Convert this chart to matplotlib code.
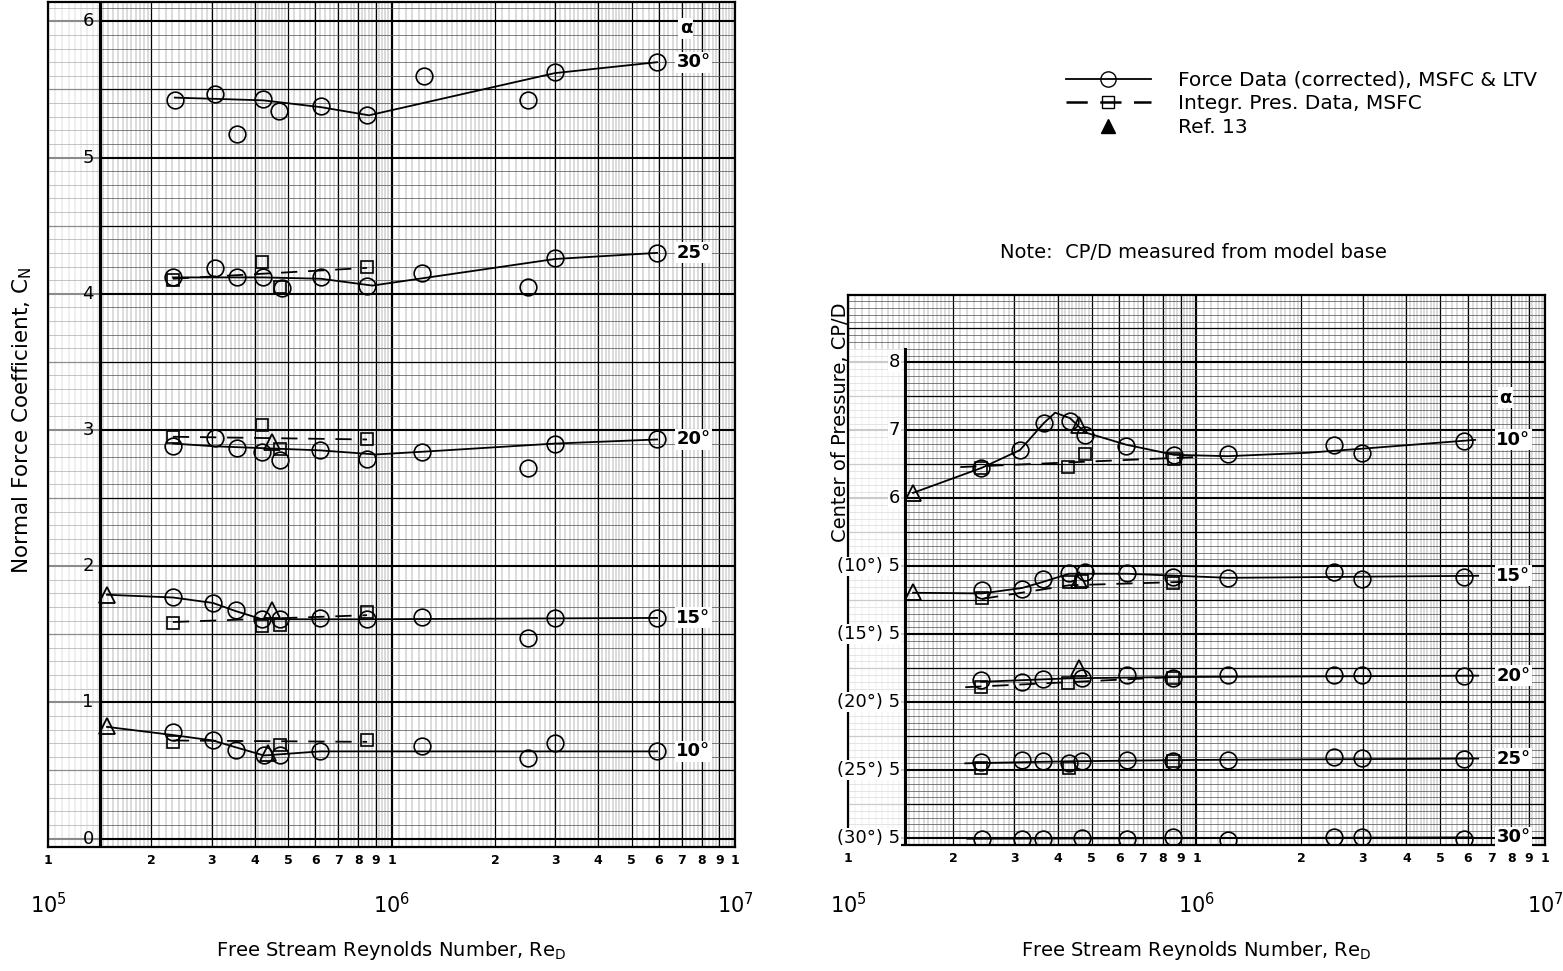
import numpy as np
import matplotlib
matplotlib.use("Agg")
import matplotlib.pyplot as plt
from matplotlib.lines import Line2D
from matplotlib.ticker import NullLocator
import matplotlib.transforms as mtrans

plt.rcParams['font.family'] = ['DejaVu Sans']

# ------------------------------------------------------------------ data
# Left panel: normal force coefficient C_N vs Re_D, per angle of attack
cn30_re = [2.34e5, 3.06e5, 3.55e5, 4.23e5, 4.70e5, 6.23e5, 8.49e5, 1.24e6, 2.50e6, 2.99e6, 5.93e6]
cn30 = [5.42, 5.47, 5.17, 5.43, 5.34, 5.38, 5.31, 5.60, 5.42, 5.63, 5.70]
cn30_fair_re = [2.34e5, 4.23e5, 6.23e5, 8.6e5, 2.99e6, 5.93e6]
cn30_fair = [5.44, 5.42, 5.37, 5.31, 5.62, 5.70]

cn25_re = [2.31e5, 3.06e5, 3.55e5, 4.23e5, 4.80e5, 6.23e5, 8.49e5, 1.23e6, 2.50e6, 2.99e6, 5.93e6]
cn25 = [4.12, 4.19, 4.12, 4.12, 4.04, 4.12, 4.06, 4.15, 4.05, 4.26, 4.30]
cn25_fair_re = [2.31e5, 4.23e5, 6.23e5, 8.8e5, 2.99e6, 5.93e6]
cn25_fair = [4.12, 4.12, 4.11, 4.06, 4.255, 4.30]
cn25_sq_re = [2.31e5, 4.20e5, 4.75e5, 8.49e5]
cn25_sq = [4.10, 4.23, 4.05, 4.20]
cn25_dash_re = [2.31e5, 8.49e5]
cn25_dash = [4.11, 4.19]

cn20_re = [2.31e5, 3.06e5, 3.55e5, 4.20e5, 4.75e5, 6.20e5, 8.49e5, 1.23e6, 2.50e6, 2.99e6, 5.93e6]
cn20 = [2.88, 2.94, 2.87, 2.84, 2.78, 2.85, 2.79, 2.84, 2.72, 2.90, 2.93]
cn20_fair_re = [2.31e5, 3.06e5, 6.20e5, 9.0e5, 1.23e6, 2.99e6, 5.93e6]
cn20_fair = [2.90, 2.88, 2.85, 2.82, 2.84, 2.90, 2.93]
cn20_sq_re = [2.31e5, 4.20e5, 4.75e5, 8.49e5]
cn20_sq = [2.95, 3.04, 2.86, 2.93]
cn20_dash_re = [2.31e5, 8.49e5]
cn20_dash = [2.95, 2.93]
cn20_tri_re = [4.49e5]
cn20_tri = [2.91]

cn15_re = [2.31e5, 3.02e5, 3.52e5, 4.20e5, 4.75e5, 6.20e5, 8.49e5, 1.23e6, 2.50e6, 2.99e6, 5.93e6]
cn15 = [1.77, 1.73, 1.68, 1.61, 1.61, 1.62, 1.61, 1.63, 1.47, 1.62, 1.62]
cn15_fair_re = [1.485e5, 2.31e5, 3.02e5, 3.52e5, 4.20e5, 8.49e5, 5.93e6]
cn15_fair = [1.79, 1.77, 1.73, 1.67, 1.61, 1.61, 1.62]
cn15_sq_re = [2.31e5, 4.20e5, 4.75e5, 8.49e5]
cn15_sq = [1.58, 1.56, 1.57, 1.66]
cn15_dash_re = [2.31e5, 8.49e5]
cn15_dash = [1.59, 1.64]
cn15_tri_re = [1.485e5, 4.49e5]
cn15_tri = [1.79, 1.68]

cn10_re = [2.31e5, 3.02e5, 3.52e5, 4.25e5, 4.75e5, 6.20e5, 1.23e6, 2.50e6, 2.99e6, 5.93e6]
cn10 = [0.78, 0.72, 0.65, 0.61, 0.61, 0.64, 0.68, 0.59, 0.70, 0.64]
cn10_fair_re = [1.485e5, 2.31e5, 3.02e5, 3.52e5, 4.25e5, 6.20e5, 5.93e6]
cn10_fair = [0.82, 0.76, 0.72, 0.67, 0.61, 0.64, 0.64]
cn10_sq_re = [2.31e5, 4.75e5, 8.49e5]
cn10_sq = [0.71, 0.69, 0.72]
cn10_dash_re = [2.31e5, 8.49e5]
cn10_dash = [0.72, 0.71]
cn10_tri_re = [1.485e5, 4.37e5]
cn10_tri = [0.83, 0.63]

# Right panel: centre of pressure CP/D vs Re_D, per angle of attack
cp10_re = [2.407e5, 3.115e5, 3.651e5, 4.335e5, 4.787e5, 6.277e5, 8.617e5, 1.231e6, 2.481e6, 2.985e6, 5.856e6]
cp10 = [6.45, 6.71, 7.11, 7.14, 6.93, 6.77, 6.64, 6.65, 6.79, 6.67, 6.84]
cp10_fair_re = [1.537e5, 2.424e5, 3.115e5, 3.651e5, 3.93e5, 4.335e5, 4.787e5, 6.277e5, 8.617e5, 1.231e6, 2.076e6, 2.985e6, 6.3e6]
cp10_fair = [6.08, 6.45, 6.71, 7.11, 7.26, 7.18, 6.97, 6.79, 6.64, 6.62, 6.67, 6.73, 6.86]
cp10_sq_re = [2.407e5, 4.279e5, 4.787e5, 8.617e5]
cp10_sq = [6.45, 6.46, 6.65, 6.58]
cp10_dash_re = [2.10e5, 1.02e6]
cp10_dash = [6.46, 6.61]
cp10_tri_re = [1.537e5, 4.601e5]
cp10_tri = [6.08, 7.08]

cp15_re = [2.424e5, 3.157e5, 3.627e5, 4.307e5, 4.787e5, 6.319e5, 8.562e5, 1.231e6, 2.481e6, 2.985e6, 5.856e6]
cp15 = [5.65, 5.67, 5.81, 5.90, 5.92, 5.90, 5.84, 5.83, 5.92, 5.81, 5.84]
cp15_fair_re = [1.537e5, 2.424e5, 3.157e5, 3.627e5, 4.307e5, 6.319e5, 1.231e6, 6.43e6]
cp15_fair = [5.61, 5.60, 5.68, 5.77, 5.89, 5.89, 5.83, 5.86]
cp15_sq_re = [2.424e5, 4.307e5, 4.69e5, 8.562e5]
cp15_sq = [5.53, 5.77, 5.78, 5.75]
cp15_dash_re = [2.424e5, 4.307e5, 9.14e5]
cp15_dash = [5.52, 5.72, 5.77]
cp15_tri_re = [1.537e5, 4.601e5]
cp15_tri = [5.62, 5.80]

cp20_re = [2.407e5, 3.157e5, 3.627e5, 4.70e5, 6.319e5, 8.562e5, 1.231e6, 2.481e6, 2.985e6, 5.856e6]
cp20 = [5.33, 5.30, 5.34, 5.36, 5.40, 5.36, 5.40, 5.40, 5.40, 5.39]
cp20_fair_re = [2.407e5, 4.279e5, 8.562e5, 6.43e6]
cp20_fair = [5.30, 5.35, 5.37, 5.39]
cp20_sq_re = [2.407e5, 4.279e5, 8.562e5]
cp20_sq = [5.22, 5.28, 5.36]
cp20_dash_re = [2.17e5, 8.6e5]
cp20_dash = [5.22, 5.37]
cp20_tri_re = [4.601e5]
cp20_tri = [5.50]

cp25_re = [2.407e5, 3.157e5, 3.627e5, 4.307e5, 4.70e5, 6.319e5, 8.562e5, 1.231e6, 2.481e6, 2.985e6, 5.856e6]
cp25 = [5.12, 5.15, 5.13, 5.11, 5.13, 5.15, 5.13, 5.15, 5.19, 5.18, 5.16]
cp25_fair_re = [2.17e5, 4.30e5, 1.0e6, 6.43e6]
cp25_fair = [5.10, 5.13, 5.15, 5.17]
cp25_sq_re = [2.407e5, 4.307e5, 8.562e5]
cp25_sq = [5.03, 5.03, 5.13]

cp30_re = [2.424e5, 3.157e5, 3.627e5, 4.70e5, 6.319e5, 8.562e5, 1.231e6, 2.481e6, 2.985e6, 5.856e6]
cp30 = [4.99, 4.99, 4.99, 5.00, 4.99, 5.02, 4.97, 5.02, 5.02, 4.99]
cp30_fair_re = [2.2e5, 6.2e6]
cp30_fair = [4.99, 5.01]

# stacked CP/D scale: value 5 of each alpha sits at this plotting level
cp_base = {'10°': 1, '15°': 2, '20°': 3, '25°': 4, '30°': 5}

x_tick_digits = ['1', '2', '3', '4', '5', '6', '7', '8', '9'] * 2 + ['1']
cn_tick_labels = ['0', '1', '2', '3', '4', '5', '6']
cp_tick_labels = ['(30°) 5', '(25°) 5', '(20°) 5', '(15°) 5', '(10°) 5', '6', '7', '8']

# ------------------------------------------------------------------ figure
W, H = 1563, 971
fig = plt.figure(figsize=(W / 100, H / 100), dpi=100)
fig.patch.set_facecolor('white')

ax1 = fig.add_axes([48 / W, 1 - 847 / H, 687 / W, 845 / H])
ax2 = fig.add_axes([848 / W, 1 - 845 / H, 697 / W, 550 / H])
ax1.set_xscale('log'); ax2.set_xscale('log')
ax1.set_xlim(1e5, 1e7); ax2.set_xlim(1e5, 1e7)
ax1.set_ylim(-0.062, 6.142)
ax2.set_ylim(-0.102, 7.992)


def paper(ax, y0, y1):
    xt = ax.get_xaxis_transform()
    yt = ax.get_yaxis_transform()
    minor = []
    for d in (1e5, 1e6):
        minor += [d * (1 + 0.05 * i) for i in range(1, 20)]
        minor += [d * (2 + 0.1 * i) for i in range(1, 30)]
        minor += [d * (5 + 0.2 * i) for i in range(1, 25)]
    ax.vlines(minor, 0, 1, transform=xt, colors='0.45', lw=0.35, zorder=0.5)
    mids = [d * k for d in (1e5, 1e6) for k in range(2, 10)]
    ax.vlines(mids, 0, 1, transform=xt, colors='k', lw=0.9, zorder=0.6)
    ax.vlines([1e5, 1e6, 1e7], 0, 1, transform=xt, colors='k', lw=1.6, zorder=0.6)
    for i in range(int(np.ceil(y0 * 10)), int(np.floor(y1 * 10)) + 1):
        h = i / 10
        if i % 10 == 0:
            lw, c = 1.5, 'k'
        elif i % 5 == 0:
            lw, c = 0.9, 'k'
        else:
            lw, c = 0.5, '0.3'
        ax.hlines(h, 0, 1, transform=yt, colors=c, lw=lw, zorder=0.6)


paper(ax1, -0.062, 6.142)
paper(ax2, -0.102, 7.992)

# lighter margin strips left of the heavy ordinate lines
ax1.axvspan(1e5, 1.42e5, color='white', alpha=0.55, zorder=0.8, lw=0)
ax2.fill_between([1e5, 1.457e5], -0.2, 7.2, color='white', alpha=0.8, zorder=0.8, lw=0)
ax1.axvline(1.42e5, color='k', lw=2.2, zorder=1)
ax2.axvline(1.457e5, ymin=0, ymax=(7.2 + 0.102) / 8.094, color='k', lw=2.2, zorder=1)

for ax in (ax1, ax2):
    ax.set_xticks([k * 1e5 for k in range(1, 10)] + [k * 1e6 for k in range(1, 10)] + [1e7])
    ax.set_xticklabels(x_tick_digits, fontweight='bold')
    ax.xaxis.set_minor_locator(NullLocator())
    ax.set_yticks([])
    ax.tick_params(axis='x', length=0, pad=5, labelsize=9)
    for s in ax.spines.values():
        s.set_linewidth(1.6)

circ = dict(marker='o', ms=12, mfc='none', mec='k', mew=1.2, ls='none', zorder=4)
sqr = dict(marker='s', ms=8, mfc='none', mec='k', mew=1.2, ls='none', zorder=4)
tri = dict(marker='^', ms=12, mfc='none', mec='k', mew=1.3, ls='none', zorder=4)
solid = dict(color='k', lw=1.3, zorder=3)
dashed = dict(color='k', lw=1.3, ls=(0, (9, 6)), zorder=3)

# left panel series
left_sets = [
    (cn30_re, cn30, cn30_fair_re, cn30_fair, None, None, None, None, None, None),
    (cn25_re, cn25, cn25_fair_re, cn25_fair, cn25_sq_re, cn25_sq, cn25_dash_re, cn25_dash, None, None),
    (cn20_re, cn20, cn20_fair_re, cn20_fair, cn20_sq_re, cn20_sq, cn20_dash_re, cn20_dash, cn20_tri_re, cn20_tri),
    (cn15_re, cn15, cn15_fair_re, cn15_fair, cn15_sq_re, cn15_sq, cn15_dash_re, cn15_dash, cn15_tri_re, cn15_tri),
    (cn10_re, cn10, cn10_fair_re, cn10_fair, cn10_sq_re, cn10_sq, cn10_dash_re, cn10_dash, cn10_tri_re, cn10_tri),
]
left_names = ['30°', '25°', '20°', '15°', '10°']


def draw(ax, s, shift=0.0):
    cx, cy, fx, fy, sx, sy, dx, dy, tx, ty = s
    f = lambda v: np.asarray(v) - shift
    ax.plot(fx, f(fy), **solid)
    ax.plot(cx, f(cy), **circ)
    if sx is not None:
        ax.plot(sx, f(sy), **sqr)
    if dx is not None:
        ax.plot(dx, f(dy), **dashed)
    if tx is not None:
        ax.plot(tx, f(ty), **tri)


lab_box = dict(facecolor='white', edgecolor='none', pad=1.0)
for s, name in zip(left_sets, left_names):
    draw(ax1, s)
    ax1.text(6.75e6, s[3][-1], name, fontsize=13, fontweight='bold', va='center', ha='left',
             zorder=5, bbox=lab_box)
ax1.text(6.9e6, 5.95, 'α', fontsize=13, fontweight='bold', va='center', ha='left', zorder=5,
         bbox=lab_box)

right_sets = [
    (cp10_re, cp10, cp10_fair_re, cp10_fair, cp10_sq_re, cp10_sq, cp10_dash_re, cp10_dash, cp10_tri_re, cp10_tri),
    (cp15_re, cp15, cp15_fair_re, cp15_fair, cp15_sq_re, cp15_sq, cp15_dash_re, cp15_dash, cp15_tri_re, cp15_tri),
    (cp20_re, cp20, cp20_fair_re, cp20_fair, cp20_sq_re, cp20_sq, cp20_dash_re, cp20_dash, cp20_tri_re, cp20_tri),
    (cp25_re, cp25, cp25_fair_re, cp25_fair, cp25_sq_re, cp25_sq, None, None, None, None),
    (cp30_re, cp30, cp30_fair_re, cp30_fair, None, None, None, None, None, None),
]
right_names = ['10°', '15°', '20°', '25°', '30°']
for s, name in zip(right_sets, right_names):
    draw(ax2, s, shift=cp_base[name])
    ax2.text(7.25e6, s[3][-1] - cp_base[name], name, fontsize=13, fontweight='bold', va='center',
             ha='left', zorder=5, bbox=lab_box)
ax2.text(7.4e6, 6.48, 'α', fontsize=13, fontweight='bold', va='center',
         ha='left', zorder=5, bbox=lab_box)

# ordinate labels drawn inside the paper margin
for i, t in enumerate(cn_tick_labels):
    ax1.text(1.36e5, i, t, fontsize=13, ha='right', va='center', zorder=5)
for i, t in enumerate(cp_tick_labels):
    ax2.text(1.41e5, i, t, fontsize=13, ha='right', va='center', zorder=5,
             bbox=dict(facecolor='white', edgecolor='none', pad=0.5))

# decade labels and axis titles
for ax in (ax1, ax2):
    tr = mtrans.blended_transform_factory(ax.transData, fig.transFigure)
    for d, t in zip([1e5, 1e6, 1e7], [r'$10^5$', r'$10^6$', r'$10^7$']):
        ax.text(d, 1 - 905 / H, t, transform=tr, fontsize=15, ha='center', va='center')
fig.text((48 + 735) / 2 / W, 1 - 950 / H, 'Free Stream Reynolds Number, Re$_\\mathrm{D}$',
         fontsize=14, ha='center', va='center')
fig.text((848 + 1545) / 2 / W, 1 - 950 / H, 'Free Stream Reynolds Number, Re$_\\mathrm{D}$',
         fontsize=14, ha='center', va='center')
fig.text(22 / W, 1 - 420 / H, 'Normal Force Coefficient, C$_\\mathrm{N}$', rotation=90,
         fontsize=15.5, ha='center', va='center')
fig.text(840 / W, 1 - 422 / H, 'Center of Pressure, CP/D', rotation=90,
         fontsize=14, ha='center', va='center')

# legend and note
handles = [
    Line2D([], [], color='k', lw=1.3, marker='o', ms=11, mfc='none', mec='k'),
    Line2D([], [], color='k', lw=1.8, ls=(0, (8.5, 5)), marker='s', ms=8, mfc='none', mec='k'),
    Line2D([], [], ls='none', marker='^', ms=10, mfc='k', mec='k'),
]
labels = ['Force Data (corrected), MSFC & LTV', 'Integr. Pres. Data, MSFC', 'Ref. 13']
fig.legend(handles, labels, loc='upper left', bbox_to_anchor=(1066 / W, 1 - 71 / H),
           frameon=False, fontsize=14.5, handlelength=4.2, handletextpad=1.35,
           labelspacing=0.22, borderpad=0, borderaxespad=0, numpoints=1)
fig.text(1000 / W, 1 - 253 / H, 'Note:  CP/D measured from model base', fontsize=14,
         ha='left', va='center')

fig.savefig('out.png', dpi=100, facecolor='white')
